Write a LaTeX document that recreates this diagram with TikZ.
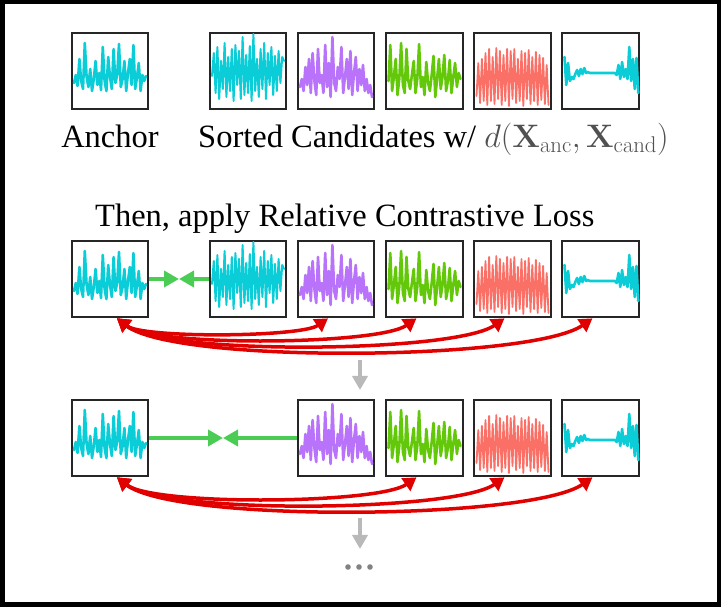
\RequirePackage{fix-cm}
\documentclass[tikz,border=0pt]{standalone}
\usepackage[no-math]{fontspec}
\setmainfont{Liberation Serif}
\usetikzlibrary{arrows.meta,calc}

\definecolor{sigcyan}{RGB}{10,205,215}
\definecolor{sigpurple}{RGB}{185,115,250}
\definecolor{siggreen}{RGB}{100,200,10}
\definecolor{sigsalmon}{RGB}{250,112,102}
\definecolor{arrred}{RGB}{225,0,0}
\definecolor{arrgreen}{RGB}{75,205,85}
\definecolor{arrgray}{RGB}{185,185,185}
\definecolor{dotgray}{RGB}{130,130,130}
\definecolor{mathgray}{RGB}{80,80,80}

\tikzset{
  sigbox/.style={draw=black!85, line width=2.2pt, minimum size=76.5pt, inner sep=0pt},
  wave/.style={line width=2.6pt, line join=round, line cap=round},
  lbl/.style={font=\fontsize{32.5}{39}\selectfont, inner sep=0pt},
  posarrow/.style={draw=arrgreen, line width=3.6pt, -{Triangle[length=15pt,width=16pt]}},
  negarrow/.style={draw=arrred, line width=3.5pt, {Triangle[length=13pt,width=15pt]}-{Triangle[length=13pt,width=15pt]}},
  steparrow/.style={draw=arrgray, line width=3.8pt, -{Triangle[length=14pt,width=15pt]}}
}

\def\signal[#1](#2)(#3)#4{\draw[wave,#1,shift={(#2)}] (-36,#3) \foreach \v [count=\i] in {#4} {-- ({-36+1.8*\i},\v)};}
\def\waveanchor(#1){\signal[sigcyan](#1)(-12){-4,-15,12,-10,-18,28,-6,-16,2,-20,-8,10,-14,-2,-19,24,-10,-20,14,-6,-18,22,-12,-4,27,-16,-8,10,-20,-2,12,-14,26,-18,-6,8,-20,-4,-10,-5}}
\def\wavedense(#1){\signal[sigcyan,line width=2pt](#1)(-5){18,-22,24,-28,10,-18,28,-26,14,-20,22,-30,26,-14,20,-28,34,-24,16,-22,25,-30,37,-20,12,-26,22,-18,28,-28,18,-14,24,-24,15,-20,20,-12,14,10}}
\def\wavepurple(#1){\signal[sigpurple](#1)(-16){-8,-20,4,-14,12,-22,18,-10,-24,22,-12,-4,-22,26,-16,8,-26,34,-12,-20,4,-8,24,-22,-6,12,-18,20,-24,-2,14,-20,2,-14,6,-20,-8,-22,-14,-26}}
\def\wavegreen(#1){\signal[siggreen](#1)(-10){26,-20,-6,12,-24,-8,28,-14,-22,22,-10,-18,-4,10,-22,-8,27,-16,-6,-24,9,-12,-20,-4,15,-26,-8,12,-18,-6,16,-20,-10,11,-22,-6,8,-16,-2,-8}}
\def\wavesalmon(#1){\signal[sigsalmon,line width=1.8pt](#1)(-25){8,-32,12,-30,18,-34,22,-30,14,-33,23,-28,20,-34,16,-30,22,-35,20,-28,22,-32,12,-30,20,-35,18,-28,21,-33,14,-30,19,-34,16,-29,13,-33,6,-34}}
\def\waveflat(#1){\signal[sigcyan](#1)(14){-14,8,-10,-6,-8,-3,1,-5,2,-3,3,-2,-1,-2,-2,-2,-2,-2,-2,-2,-2,-2,-2,-2,-2,-2,-2,-2,-4,6,-8,9,-6,2,-8,24,-10,12,-18,13,-22}}

\begin{document}
\begin{tikzpicture}[x=1pt,y=1pt]
			%%%%% START %%%%%
			
			\useasboundingbox (0,0) rectangle (721,607);
			\draw[line width=4.5pt] (2.25,2.25) rectangle (718.75,604.75);
			
			\node[sigbox] (anc1) at (110,536) {};
			\node[sigbox] (cand11) at (248,536) {};
			\node[sigbox] (cand12) at (336,536) {};
			\node[sigbox] (cand13) at (424.5,536) {};
			\node[sigbox] (cand14) at (512.5,536) {};
			\node[sigbox] (cand15) at (600.5,536) {};
			\waveanchor(anc1);
			\wavedense(cand11);
			\wavepurple(cand12);
			\wavegreen(cand13);
			\wavesalmon(cand14);
			\waveflat(cand15);
			
			\node[lbl, anchor=base] (lanchor) at (110,459) {Anchor};
			\node[lbl, anchor=base west] (lsorted) at (198,459) {Sorted Candidates w/ {\color{mathgray}$d(\mathbf{X}_{\mathrm{anc}},\mathbf{X}_{\mathrm{cand}})$}};
			
			\node[lbl, anchor=base west] (lthen) at (95,380) {Then, apply Relative Contrastive Loss};
			
			\node[sigbox] (anc2) at (110,328) {};
			\node[sigbox] (cand21) at (248,328) {};
			\node[sigbox] (cand22) at (336,328) {};
			\node[sigbox] (cand23) at (424.5,328) {};
			\node[sigbox] (cand24) at (512.5,328) {};
			\node[sigbox] (cand25) at (600.5,328) {};
			\waveanchor(anc2);
			\wavedense(cand21);
			\wavepurple(cand22);
			\wavegreen(cand23);
			\wavesalmon(cand24);
			\waveflat(cand25);
			
			\coordinate (mid2) at ($(anc2.east)!0.5!(cand21.west)$);
			\draw[posarrow] (anc2.east) -- (mid2);
			\draw[posarrow] (cand21.west) -- (mid2);
			
			\draw[negarrow] ([xshift=7pt]anc2.south) to[out=-38,in=-145,looseness=0.4] ([xshift=-8pt]cand22.south);
			\draw[negarrow] ([xshift=7pt]anc2.south) to[out=-38,in=-145,looseness=0.4] ([xshift=-8pt]cand23.south);
			\draw[negarrow] ([xshift=7pt]anc2.south) to[out=-38,in=-145,looseness=0.4] ([xshift=-8pt]cand24.south);
			\draw[negarrow] ([xshift=7pt]anc2.south) to[out=-38,in=-145,looseness=0.4] ([xshift=-8pt]cand25.south);
			
			\coordinate (step1a) at (360,247);
			\coordinate (step1b) at (360,217);
			\draw[steparrow] (step1a) -- (step1b);
			
			\node[sigbox] (anc3) at (110,169) {};
			\node[sigbox] (cand32) at (336,169) {};
			\node[sigbox] (cand33) at (424.5,169) {};
			\node[sigbox] (cand34) at (512.5,169) {};
			\node[sigbox] (cand35) at (600.5,169) {};
			\waveanchor(anc3);
			\wavepurple(cand32);
			\wavegreen(cand33);
			\wavesalmon(cand34);
			\waveflat(cand35);
			
			\coordinate (mid3) at ($(anc3.east)!0.5!(cand32.west)$);
			\draw[posarrow] (anc3.east) -- (mid3);
			\draw[posarrow] (cand32.west) -- (mid3);
			
			\draw[negarrow] ([xshift=7pt]anc3.south) to[out=-38,in=-145,looseness=0.4] ([xshift=-8pt]cand33.south);
			\draw[negarrow] ([xshift=7pt]anc3.south) to[out=-38,in=-145,looseness=0.4] ([xshift=-8pt]cand34.south);
			\draw[negarrow] ([xshift=7pt]anc3.south) to[out=-38,in=-145,looseness=0.4] ([xshift=-8pt]cand35.south);
			
			\coordinate (step2a) at (360,89);
			\coordinate (step2b) at (360,58);
			\draw[steparrow] (step2a) -- (step2b);
			
			\fill[dotgray] (348,40) circle (2.8pt);
			\fill[dotgray] (359,40) circle (2.8pt);
			\fill[dotgray] (370,40) circle (2.8pt);
			
			%%%%% END %%%%%
\end{tikzpicture}
\end{document}
